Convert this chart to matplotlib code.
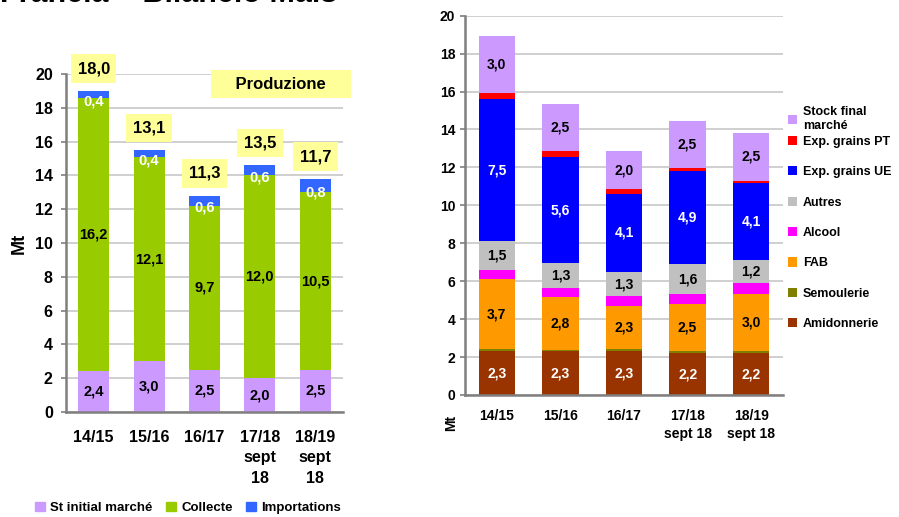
import matplotlib
matplotlib.use("Agg")
import matplotlib.pyplot as plt
import numpy as np
from matplotlib.patches import Patch

plt.rcParams['font.family'] = ['Liberation Sans', 'DejaVu Sans']
plt.rcParams['font.weight'] = 'bold'

# left chart: production
seasons_left = ['14/15', '15/16', '16/17', '17/18\nsept\n18', '18/19\nsept\n18']
stock_init = [2.4, 3.0, 2.5, 2.0, 2.5]
collecte = [16.2, 12.1, 9.7, 12.0, 10.5]
importations = [0.4, 0.4, 0.6, 0.6, 0.8]
production = [18.0, 13.1, 11.3, 13.5, 11.7]

# right chart: uses
seasons_right = ['14/15', '15/16', '16/17', '17/18\nsept 18', '18/19\nsept 18']
amidonnerie = [2.3, 2.3, 2.3, 2.2, 2.2]
semoulerie = [0.1, 0.05, 0.1, 0.1, 0.1]
fab = [3.7, 2.8, 2.3, 2.5, 3.0]
alcool = [0.5, 0.5, 0.5, 0.5, 0.6]
autres = [1.5, 1.3, 1.3, 1.6, 1.2]
exp_ue = [7.5, 5.6, 4.1, 4.9, 4.1]
exp_pt = [0.35, 0.3, 0.25, 0.15, 0.1]
stock_final = [3.0, 2.5, 2.0, 2.5, 2.5]


def fmt(v):
    return f"{v:.1f}".replace('.', ',')


def style_axis(ax, labelsize, pad):
    ax.set_ylim(0, 20)
    ax.set_yticks(range(0, 21, 2))
    ax.set_xlim(-0.5, 4.5)
    for s in ['top', 'right']:
        ax.spines[s].set_visible(False)
    for s in ['left', 'bottom']:
        ax.spines[s].set_color('#7f7f7f')
        ax.spines[s].set_linewidth(1.8)
    ax.grid(axis='y', color='#cfcfcf', linewidth=1.4)
    ax.set_axisbelow(True)
    ax.tick_params(axis='y', length=3.5, width=1.2, color='#7f7f7f',
                   labelsize=labelsize, pad=pad)
    ax.tick_params(axis='x', length=0, labelsize=labelsize)


fig = plt.figure(figsize=(8.99, 5.17), dpi=100)

# title is cut off at the top edge, as in the source slide
fig.text(337 / 899, 1 - 2.5 / 517, 'Francia \u2013 Bilancio Mais', fontsize=22,
         fontweight='bold', ha='right', va='baseline')

# ---- left chart
ax1 = fig.add_axes([0.0734, 0.2031, 0.3081, 0.6538])
x = np.arange(5)
w = 0.56
c_st, c_col, c_imp = '#cc99ff', '#99cc00', '#3366ff'
ax1.bar(x, stock_init, w, color=c_st, label='St initial marché')
b2 = np.array(stock_init)
ax1.bar(x, collecte, w, bottom=b2, color=c_col, label='Collecte')
b3 = b2 + np.array(collecte)
ax1.bar(x, importations, w, bottom=b3, color=c_imp, label='Importations')
style_axis(ax1, 11.5, 6)
ax1.set_xticks(x)
ax1.set_xticklabels(seasons_left, fontsize=11.5, fontweight='bold')
ax1.tick_params(axis='x', pad=13)
for t in ax1.get_xticklabels():
    t.set_linespacing(1.45)
ax1.set_ylabel('Mt', fontsize=13, fontweight='bold')
ax1.yaxis.set_label_coords(-0.137, 0.5)

for i in range(5):
    ax1.text(x[i], stock_init[i] / 2, fmt(stock_init[i]), ha='center',
             va='center', fontsize=10.5, fontweight='bold')
    ax1.text(x[i], b2[i] + collecte[i] / 2, fmt(collecte[i]), ha='center',
             va='center', fontsize=10.5, fontweight='bold')
    ax1.annotate(fmt(importations[i]), (x[i], b3[i] + importations[i] / 2),
                 xytext=(0, -5), textcoords='offset points', ha='center',
                 va='center', fontsize=10.5, fontweight='bold', color='white')
    top = b3[i] + importations[i]
    ax1.annotate(fmt(production[i]), (x[i], top), xytext=(0, 16),
                 textcoords='offset points', ha='center', va='center',
                 fontsize=12, fontweight='bold', annotation_clip=False,
                 bbox=dict(boxstyle='square,pad=0.4', fc='#ffff99', ec='none'))

ax1.text(0.776, 0.970, '    Produzione    ', transform=ax1.transAxes,
         ha='center', va='center', fontsize=12, fontweight='bold',
         bbox=dict(boxstyle='square,pad=0.4', fc='#ffff99', ec='none'))

h1 = [Patch(color=c_st), Patch(color=c_col), Patch(color=c_imp)]
fig.legend(h1, ['St initial marché', 'Collecte', 'Importations'],
           loc='center', bbox_to_anchor=(188 / 899, 1 - 508 / 517), ncol=3,
           frameon=False, handlelength=0.75, handleheight=0.75,
           handletextpad=0.4, columnspacing=1.0,
           prop={'weight': 'bold', 'size': 9.5})

# ---- right chart
ax2 = fig.add_axes([0.5172, 0.236, 0.3538, 0.7336])
w2 = 0.57
series = [
    ('Amidonnerie', amidonnerie, '#993300', 'white'),
    ('Semoulerie', semoulerie, '#808000', None),
    ('FAB', fab, '#ff9900', 'black'),
    ('Alcool', alcool, '#ff00ff', None),
    ('Autres', autres, '#c0c0c0', 'black'),
    ('Exp. grains UE', exp_ue, '#0000ff', 'white'),
    ('Exp. grains PT', exp_pt, '#ff0000', None),
    ('Stock final\nmarché', stock_final, '#cc99ff', 'black'),
]
bottom = np.zeros(5)
handles = []
for name, vals, col, tcol in series:
    vals = np.array(vals)
    bars = ax2.bar(x, vals, w2, bottom=bottom, color=col, label=name)
    handles.append((bars, name))
    if tcol:
        for i in range(5):
            ax2.text(x[i], bottom[i] + vals[i] / 2, fmt(vals[i]), ha='center',
                     va='center', fontsize=10, fontweight='bold', color=tcol)
    bottom = bottom + vals

style_axis(ax2, 10, 3.5)
ax2.set_xticks(x)
ax2.set_xticklabels(seasons_right, fontsize=10, fontweight='bold')
ax2.tick_params(axis='x', pad=10)
for t in ax2.get_xticklabels():
    t.set_linespacing(1.35)
ax2.set_ylabel('Mt', fontsize=10, fontweight='bold')
ax2.yaxis.set_label_coords(-0.022, -0.073)

handles = handles[::-1]
leg_kw = dict(loc='center left', frameon=False, handlelength=0.75,
              handleheight=0.75, handletextpad=0.45, borderpad=0,
              borderaxespad=0, prop={'weight': 'bold', 'size': 9})
# two-line entry sits tighter above the rest, so it gets its own legend
fig.legend([handles[0][0]], [handles[0][1]],
           bbox_to_anchor=(788 / 899, 1 - 119 / 517), **leg_kw)
fig.legend([h[0] for h in handles[1:]], [h[1] for h in handles[1:]],
           bbox_to_anchor=(788 / 899, 1 - 233 / 517), labelspacing=1.47,
           **leg_kw)

fig.savefig('out.png', dpi=100)
